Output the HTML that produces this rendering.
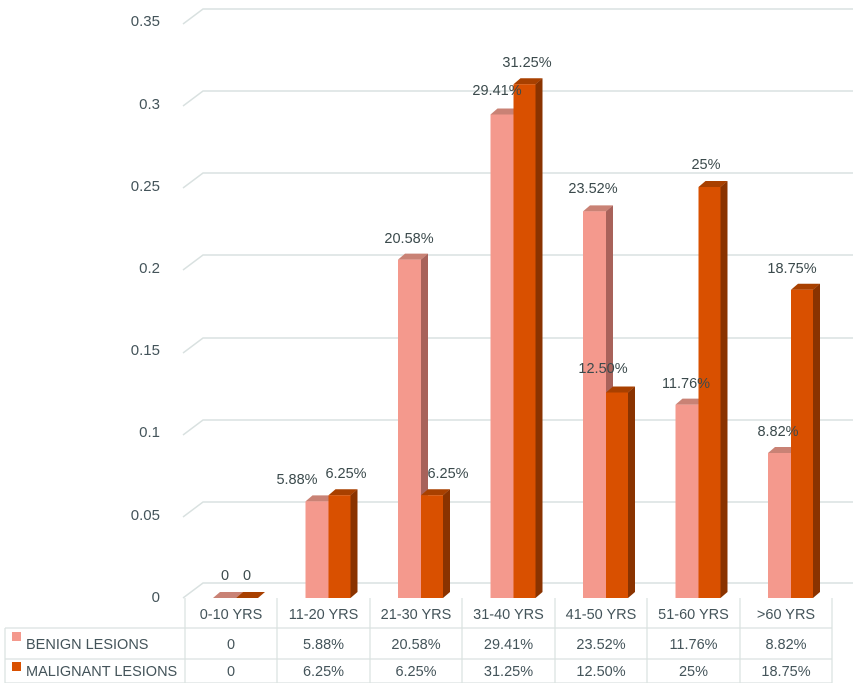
<!DOCTYPE html>
<html><head><meta charset="utf-8"><style>
html,body{margin:0;padding:0;background:#fff;}
svg{display:block;font-family:"Liberation Sans",sans-serif;}
</style></head><body>
<svg width="853" height="683" viewBox="0 0 853 683" xmlns="http://www.w3.org/2000/svg">
<g stroke="#d9e1e0" stroke-width="1.5" fill="none">
<polyline points="183,24 203,9 853,9"/>
<polyline points="183,106 203,91 853,91"/>
<polyline points="183,188 203,173 853,173"/>
<polyline points="183,270 203,255 853,255"/>
<polyline points="183,353 203,338 853,338"/>
<polyline points="183,435 203,420 853,420"/>
<polyline points="183,517 203,502 853,502"/>
<polyline points="183,598 203,583 853,583"/>
</g>
<g fill="#44545a" font-size="15" text-anchor="end">
<text x="160" y="26">0.35</text>
<text x="160" y="109">0.3</text>
<text x="160" y="191">0.25</text>
<text x="160" y="273">0.2</text>
<text x="160" y="355">0.15</text>
<text x="160" y="437">0.1</text>
<text x="160" y="520">0.05</text>
<text x="160" y="602">0</text>
</g>
<g id="bars"></g>
<g fill="#3b4a4c" font-size="14.5" text-anchor="middle" id="labels"></g>
<g stroke="#d9e1e0" stroke-width="1.2" fill="none">
<line x1="185" y1="598" x2="185" y2="683"/>
<line x1="5" y1="628" x2="832" y2="628"/>
<line x1="5" y1="659" x2="832" y2="659"/>
<line x1="5" y1="683" x2="832" y2="683"/>
<line x1="5" y1="628" x2="5" y2="683"/>
<line x1="277" y1="598" x2="277" y2="683"/>
<line x1="370" y1="598" x2="370" y2="683"/>
<line x1="462" y1="598" x2="462" y2="683"/>
<line x1="555" y1="598" x2="555" y2="683"/>
<line x1="647" y1="598" x2="647" y2="683"/>
<line x1="740" y1="598" x2="740" y2="683"/>
<line x1="832" y1="598" x2="832" y2="683"/>
</g>
<rect x="12" y="632" width="9" height="9" fill="#f4998d"/>
<rect x="12" y="662" width="9" height="9" fill="#d95000"/>
<g fill="#44545a" font-size="14.5">
<text x="26" y="649">BENIGN LESIONS</text>
<text x="26" y="676">MALIGNANT LESIONS</text>
</g>
<g fill="#44545a" font-size="14.5" text-anchor="middle" id="tbl"></g>
<script>
var ns="http://www.w3.org/2000/svg";
var cats=["0-10 YRS","11-20 YRS","21-30 YRS","31-40 YRS","41-50 YRS","51-60 YRS",">60 YRS"];
var b=[0,.0588,.2058,.2941,.2352,.1176,.0882],m=[0,.0625,.0625,.3125,.125,.25,.1875];
var bl=["0","5.88%","20.58%","29.41%","23.52%","11.76%","8.82%"],ml=["0","6.25%","6.25%","31.25%","12.50%","25%","18.75%"];
var bx=[225,297,409,497,593,686,778],by=[580,484,243,95,193,388,436];
var mx=[247,346,448,527,603,706,792],my=[580,478,478,67,373,169,273];
var bars=document.getElementById("bars"),lab=document.getElementById("labels"),tbl=document.getElementById("tbl");
function el(t,a,p,txt){var e=document.createElementNS(ns,t);for(var k in a)e.setAttribute(k,a[k]);if(txt!=null)e.textContent=txt;p.appendChild(e);return e;}
var base=598,sc=1644,dx=7,dy=6;
function bar(x,w,v,f,s,t){var top=base-v*sc;
el("polygon",{points:x+","+top+" "+(x+dx)+","+(top-dy)+" "+(x+w+dx)+","+(top-dy)+" "+(x+w)+","+top,fill:t},bars);
el("polygon",{points:(x+w)+","+top+" "+(x+w+dx)+","+(top-dy)+" "+(x+w+dx)+","+(base-dy)+" "+(x+w)+","+base,fill:s},bars);
el("rect",{x:x,y:top,width:w,height:v*sc,fill:f},bars);}
for(var i=0;i<7;i++){var c=185+i*92.5;
bar(c+28,23,b[i],"#f4998d","#a8625a","#c98275");
bar(c+51,22,m[i],"#d95000","#8a3300","#a84000");
el("text",{x:bx[i],y:by[i]},lab,bl[i]);
el("text",{x:mx[i],y:my[i]},lab,ml[i]);
el("text",{x:c+46,y:619},tbl,cats[i]);
el("text",{x:c+46,y:649},tbl,bl[i]);
el("text",{x:c+46,y:676},tbl,ml[i]);}
</script>
</svg>
</body></html>
